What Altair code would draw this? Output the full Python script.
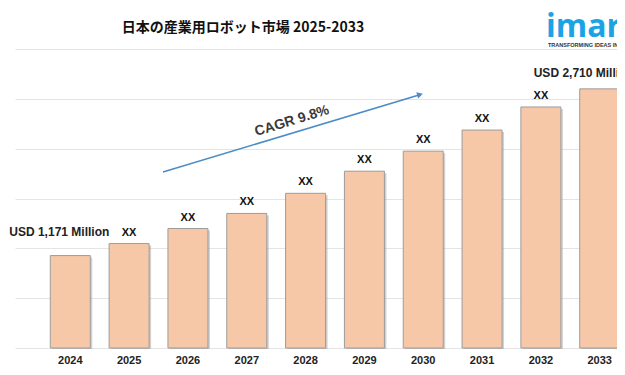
import altair as alt
import pandas as pd

years = ["2024", "2025", "2026", "2027", "2028", "2029", "2030", "2031", "2032", "2033"]
values = [1171, 1282, 1421, 1560, 1746, 1950, 2135, 2330, 2543, 2710]
labels = ["USD 1,171 Million", "XX", "XX", "XX", "XX", "XX", "XX", "XX", "XX", "USD 2,710 Million"]
title_text = "日本の産業用ロボット市場 2025-2033"
cagr_text = "CAGR 9.8%"

base_value = 318
grid_step = 460
grid_values = [base_value + grid_step * i for i in range(7)]
domain = [grid_values[0], grid_values[-1]]

df = pd.DataFrame({"year": years, "value": values, "label": labels})

FONT = "Liberation Sans"

x = alt.X(
    "year:N",
    sort=None,
    scale=alt.Scale(paddingInner=0.32, paddingOuter=0.6),
    axis=alt.Axis(
        title=None, labelAngle=0, domain=False, ticks=False,
        labelFont=FONT, labelFontWeight="bold", labelFontSize=11,
        labelColor="#222222", labelPadding=6,
    ),
)
y = alt.Y(
    "value:Q",
    scale=alt.Scale(domain=domain, zero=False, nice=False),
    axis=alt.Axis(
        values=grid_values, labels=False, ticks=False, domain=False,
        title=None, grid=True, gridColor="#e4e4e4", gridWidth=1,
    ),
)

base = alt.Chart(df)

shadow = base.mark_bar(
    color="#9a9a9a", opacity=0.45, xOffset=2, x2Offset=2, yOffset=2, y2Offset=1
).encode(x=x, y=y, y2=alt.datum(base_value))

bars = base.mark_bar(
    color="#F7C8A7", stroke="#9c9c9c", strokeWidth=1
).encode(x=x, y=y, y2=alt.datum(base_value))

xx = base.transform_filter(alt.datum.label == "XX").mark_text(
    font=FONT, fontWeight="bold", fontSize=11, color="#111111",
    baseline="bottom", dy=-6,
).encode(x=x, y=y, text="label:N")

first_lbl = base.transform_filter(alt.datum.year == "2024").mark_text(
    font=FONT, fontWeight="bold", fontSize=12, color="#222222",
    baseline="bottom", dx=-11, dy=-17,
).encode(x=x, y=y, text="label:N")

last_lbl = base.transform_filter(alt.datum.year == "2033").mark_text(
    font=FONT, fontWeight="bold", fontSize=12, color="#222222",
    baseline="bottom", align="left", dx=-66, dy=-9,
).encode(x=x, y=y, text="label:N")

ann = pd.DataFrame({"k": [0]})
arrow_line = alt.Chart(ann).mark_rule(color="#4a8cc6", strokeWidth=1.6).encode(
    x=alt.value(148), y=alt.value(123), x2=alt.value(404), y2=alt.value(46)
)
arrow_head = alt.Chart(ann).mark_point(
    shape="triangle-right", filled=True, color="#4a8cc6", size=45, angle=343, opacity=1
).encode(x=alt.value(405), y=alt.value(45.5))
cagr = alt.Chart(ann).mark_text(
    text=cagr_text, font=FONT, fontWeight="bold", fontSize=14, color="#3a3a3a", angle=343
).encode(x=alt.value(277), y=alt.value(72))

title = alt.Chart(ann).mark_text(
    text=title_text, font="Noto Sans CJK JP", fontWeight="bold", fontSize=14,
    color="#111111", align="center", baseline="middle",
).encode(x=alt.value(228), y=alt.value(-21))

logo = alt.Chart(ann).mark_text(
    text="imarc", font="Open Sans", fontWeight="bold", fontSize=32, color="#1ba3e6",
    align="left", baseline="alphabetic",
).encode(x=alt.value(531), y=alt.value(-12))
tagline = alt.Chart(ann).mark_text(
    text="TRANSFORMING IDEAS INTO IMPACT", font=FONT, fontWeight="bold", fontSize=5.5,
    color="#333333", align="left", baseline="middle",
).encode(x=alt.value(533), y=alt.value(-4))

chart = alt.layer(
    shadow, bars, xx, first_lbl, last_lbl, arrow_line, arrow_head, cagr, title, logo, tagline
).properties(
    width=640, height=299,
    autosize=alt.AutoSizeParams(type="none"),
    padding={"left": 7, "top": 41, "right": -38, "bottom": 19},
    background="white",
).configure_view(stroke=None)

chart.save("out.html", embed_options={"renderer": "svg", "actions": False})
